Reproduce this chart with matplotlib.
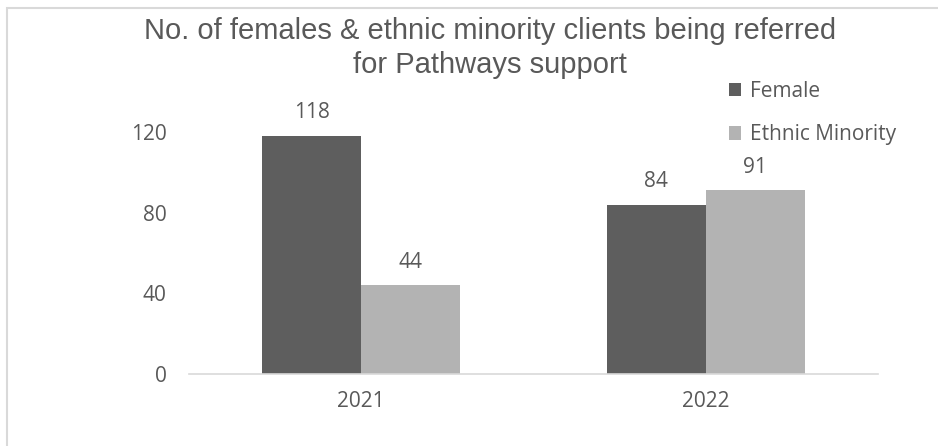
import matplotlib
matplotlib.use("Agg")
import matplotlib.pyplot as plt
import numpy as np
from matplotlib.patches import Rectangle

# referrals per year
years = ["2021", "2022"]
female = [118, 84]
ethnic_minority = [44, 91]
series_names = ["Female", "Ethnic Minority"]
yticks = [0, 40, 80, 120]

txt_col = "#595959"
line_col = "#d9d9d9"
bar_cols = ["#5e5e5e", "#b3b3b3"]
tick_font = "Open Sans"
fs = 15

fig = plt.figure(figsize=(9.38, 4.46), dpi=100)
ax = fig.add_axes([0.2015, 0.1614, 0.7345, 0.6332])

x = np.arange(len(years))
w = 0.287
bars_f = ax.bar(x - w / 2, female, w, color=bar_cols[0], label=series_names[0])
bars_e = ax.bar(x + w / 2, ethnic_minority, w, color=bar_cols[1], label=series_names[1])

for bars in (bars_f, bars_e):
    for b in bars:
        h = b.get_height()
        ax.annotate(f"{h:g}", (b.get_x() + b.get_width() / 2, h),
                    xytext=(0, 9), textcoords="offset points",
                    ha="center", va="bottom", fontsize=fs,
                    color=txt_col, family=tick_font)

ax.set_xlim(-0.5, 1.5)
ax.set_ylim(0, 140)
ax.set_xticks(x)
ax.set_xticklabels(years)
ax.set_yticks(yticks)
ax.tick_params(length=0, labelsize=fs, labelcolor=txt_col)
ax.tick_params(axis="y", pad=16)
ax.tick_params(axis="x", pad=12)
for lab in ax.get_xticklabels() + ax.get_yticklabels():
    lab.set_family(tick_font)

for side in ("top", "right", "left"):
    ax.spines[side].set_visible(False)
ax.spines["bottom"].set_color(line_col)
ax.spines["bottom"].set_linewidth(1.2)

leg = ax.legend(loc="upper left", bbox_to_anchor=(0.766, 0.842),
                bbox_transform=fig.transFigure, frameon=False,
                borderpad=0, handlelength=0.6, handleheight=0.6,
                handletextpad=0.4, labelspacing=1.08,
                prop={"family": tick_font, "size": fs})
for t in leg.get_texts():
    t.set_color(txt_col)

fig.text(0.522, 0.912, "No. of females & ethnic minority clients being referred",
         ha="center", va="baseline", fontsize=21, color=txt_col,
         family="Liberation Sans")
fig.text(0.522, 0.836, "for Pathways support",
         ha="center", va="baseline", fontsize=21, color=txt_col,
         family="Liberation Sans")

# chart frame, open on the right and bottom
fig.patches.append(Rectangle((6.5 / 938, -0.1), 1.2, 1.1 - 7.5 / 446,
                             transform=fig.transFigure, fill=False,
                             edgecolor=line_col, linewidth=1.5))

fig.savefig("out.png", dpi=100)
